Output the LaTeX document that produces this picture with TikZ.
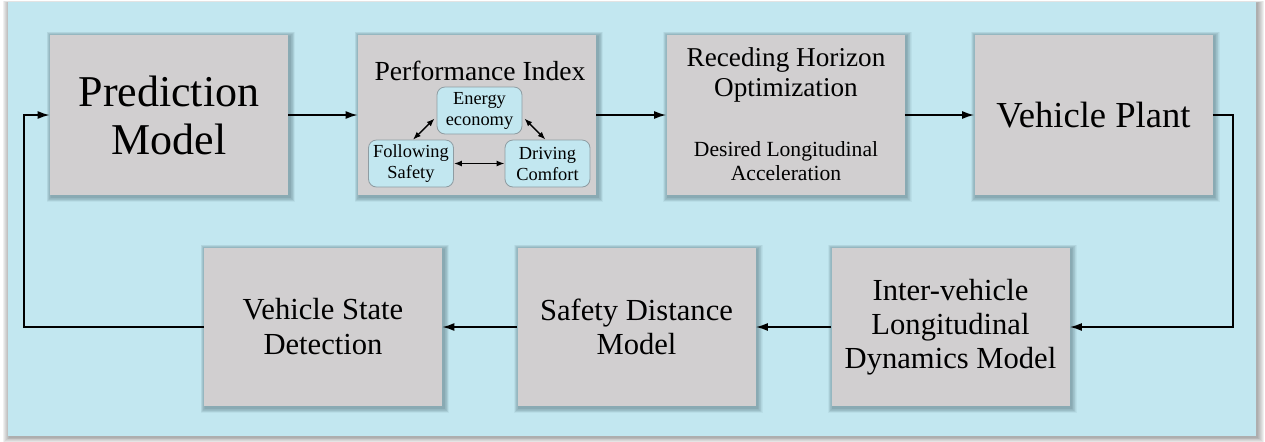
\documentclass[tikz,border=0pt]{standalone}
\usepackage{fontspec}
\setmainfont{Liberation Serif}
\usetikzlibrary{arrows.meta,calc}
\definecolor{bgblue}{HTML}{C2E7F0}
\definecolor{boxgray}{HTML}{D1CFD0}
\definecolor{subborder}{HTML}{8E9CA2}
\definecolor{shadowcol}{HTML}{2E4650}
\pgfdeclarelayer{bglayer}
\pgfdeclarelayer{shadowlayer}
\pgfsetlayers{bglayer,shadowlayer,main}
\newcommand{\softshadow}[1]{% node name
  \begin{pgfonlayer}{shadowlayer}
    \foreach \k in {1,...,8}{
      \fill[shadowcol,opacity=0.055]
        ($(#1.south west)+(-\k*0.55+1.5,\k*0.65+1.5)$) rectangle
        ($(#1.north east)+(\k*0.65+1.5,-\k*0.55+1.5)$);
    }
  \end{pgfonlayer}}
\tikzset{
  blockbox/.style={draw=none,fill=boxgray,minimum width=119pt,minimum height=80pt,inner sep=0pt,align=center,text=black},
  subbox/.style={draw=subborder,line width=0.4pt,fill=bgblue,rounded corners=4pt,minimum width=42.5pt,minimum height=23.5pt,inner sep=0pt,align=center,font=\fontsize{9.2}{10.5}\selectfont},
  flow/.style={line width=0.75pt,-{Latex[length=6pt,width=4pt]}},
  twoway/.style={line width=0.7pt,{Latex[length=4pt,width=3pt]}-{Latex[length=4pt,width=3pt]}},
}
\begin{document}
\begin{tikzpicture}[x=0.5pt,y=-0.5pt]
\useasboundingbox (0,0) rectangle (1265,441);
% background panel with shadow
\begin{pgfonlayer}{bglayer}
  \fill[white] (0,0) rectangle (1265,441);
  \foreach \k in {1,...,7}{
    \fill[black!70,opacity=0.08] ($(8,2)+(-\k*0.9+1.5,-\k*0.3+1)$) rectangle ($(1256,436)+(\k*0.9+1.5,\k*0.8+1)$);
  }
  \fill[bgblue] (8,2) rectangle (1256,436);
\end{pgfonlayer}
% top row
\node[blockbox,font=\fontsize{22}{24}\selectfont] (pred) at (169,115) {Prediction\\Model};
\node[blockbox] (perf) at (477,115) {};
\node[blockbox] (rho) at (785.5,115) {};
\node[blockbox,font=\fontsize{18.3}{20}\selectfont] (plant) at (1093.5,115) {Vehicle Plant};
% bottom row
\node[blockbox,minimum height=79pt,font=\fontsize{15.3}{17.5}\selectfont] (vsd) at (323,327) {Vehicle State\\Detection};
\node[blockbox,minimum height=79pt,font=\fontsize{15.3}{17}\selectfont] (sdm) at (636.5,327) {Safety Distance\\Model};
\node[blockbox,minimum height=79pt,font=\fontsize{15.3}{17}\selectfont] (ivl) at (950.5,327) {Inter-vehicle\\Longitudinal\\Dynamics Model};
\foreach \n in {pred,perf,rho,plant,vsd,sdm,ivl}{\softshadow{\n}}
% performance index contents
\node[font=\fontsize{13.8}{15}\selectfont,inner sep=0pt] (perftitle) at (480,71) {Performance Index};
\node[subbox] (energy) at (479.5,110.5) {Energy\\economy};
\node[subbox] (follow) at (411,163.5) {Following\\Safety};
\node[subbox] (drive) at (547.5,163.5) {Driving\\Comfort};
\draw[twoway] ([xshift=-1pt,yshift=-4pt]energy.west) -- ([xshift=1pt]follow.north);
\draw[twoway] ([xshift=1pt,yshift=-4pt]energy.east) -- ([xshift=-1pt]drive.north);
\draw[twoway] (follow.east) -- (drive.west);
% receding horizon contents
\node[font=\fontsize{13.6}{15}\selectfont,align=center,inner sep=0pt] (rhotitle) at (786,75) {Receding Horizon\\Optimization};
\node[font=\fontsize{10.8}{12}\selectfont,align=center,inner sep=0pt] (rhosub) at (786,161) {Desired Longitudinal\\Acceleration};
% connectors
\coordinate (rturn) at (1233,115);
\coordinate (lturn) at (24,327);
\draw[flow] (pred.east) -- (perf.west);
\draw[flow] (perf.east) -- (rho.west);
\draw[flow] (rho.east) -- (plant.west);
\draw[flow] (plant.east) -- (rturn) |- (ivl.east);
\draw[flow] (ivl.west) -- (sdm.east);
\draw[flow] (sdm.west) -- (vsd.east);
\draw[flow] (vsd.west) -- (lturn) |- (pred.west);
\end{tikzpicture}
\end{document}
